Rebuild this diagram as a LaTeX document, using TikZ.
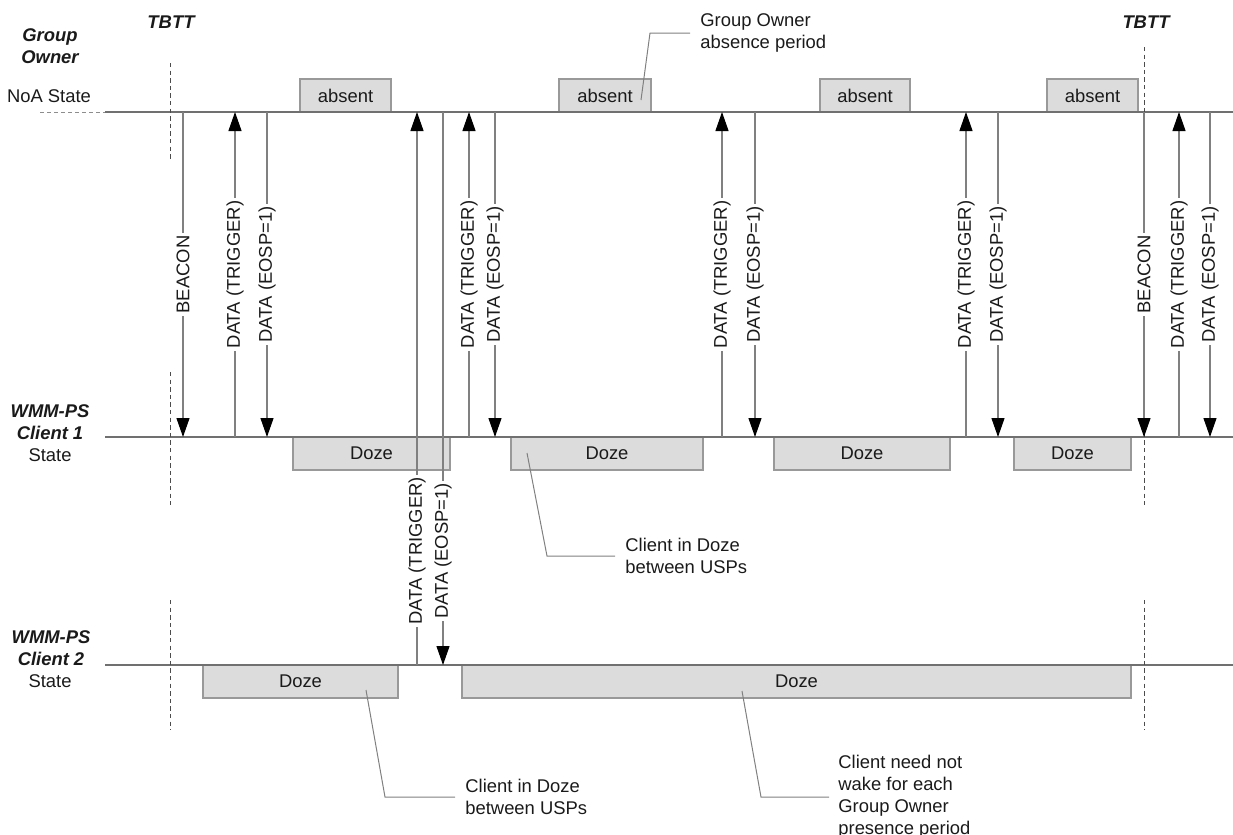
\documentclass[tikz,border=0pt]{standalone}
\usepackage{fontspec}
\setmainfont{Liberation Sans}
\usetikzlibrary{arrows.meta}
\definecolor{lineg}{HTML}{707070}
\definecolor{msgg}{HTML}{808080}
\definecolor{boxfill}{HTML}{DCDCDC}
\definecolor{boxline}{HTML}{999999}
\definecolor{txt}{HTML}{1A1A1A}
\begin{document}
\begin{tikzpicture}[x=0.5pt,y=-0.5pt,
  font=\fontsize{9.2pt}{11pt}\selectfont, text=txt,
  timeline/.style={draw=lineg, line width=0.55pt},
  lead/.style={draw=lineg!80, line width=0.5pt, dash pattern=on 2pt off 1.5pt},
  tbtt/.style={draw=black!70, line width=0.5pt, dash pattern=on 2.2pt off 1.6pt},
  msg/.style={draw=msgg, line width=0.55pt, -{Triangle[width=6.5pt,length=9.5pt,color=black]}},
  lbl/.style={fill=white, inner xsep=1.2pt, inner ysep=0.5pt, rotate=90, text=txt},
  statebox/.style={draw=boxline, fill=boxfill, line width=0.6pt, minimum height=16.5pt, inner sep=0pt},
  callline/.style={draw=msgg, line width=0.5pt},
  calltext/.style={anchor=west, align=left, inner sep=0pt},
  head/.style={font=\fontsize{9.2pt}{11pt}\selectfont\bfseries\itshape, align=center, inner sep=0pt},
  side/.style={align=center, inner sep=0pt}]
\useasboundingbox (0,0) rectangle (1233,835);

% --- state boxes
\node[statebox, minimum width=45.5pt] (a1) at (345.5,95.5) {absent};
\node[statebox, minimum width=46pt]   (a2) at (605,95.5) {absent};
\node[statebox, minimum width=45pt]   (a3) at (865,95.5) {absent};
\node[statebox, minimum width=45.5pt] (a4) at (1092.5,95.5) {absent};
\node[statebox, minimum width=78.5pt] (d1) at (371.5,453.5) {Doze};
\node[statebox, minimum width=96pt]   (d2) at (607,453.5) {Doze};
\node[statebox, minimum width=88pt]   (d3) at (862,453.5) {Doze};
\node[statebox, minimum width=58.5pt] (d4) at (1072.5,453.5) {Doze};
\node[statebox, minimum width=97.5pt] (e1) at (300.5,681.5) {Doze};
\node[statebox, minimum width=334.5pt] (e2) at (796.5,681.5) {Doze};

% --- side labels
\node[head] (tb1) at (171,22) {TBTT};
\node[head] (tb2) at (1146,22) {TBTT};
\node[head] (goh) at (50,46) {Group\\Owner};
\node[side] (gos) at (49,96) {NoA State};
\node[head] (c1h) at (50,422) {WMM-PS\\Client 1};
\node[side] (c1s) at (50,455) {State};
\node[head] (c2h) at (51,648) {WMM-PS\\Client 2};
\node[side] (c2s) at (50,681) {State};

% --- timelines
\coordinate (gl0) at (40,112);
\coordinate (gl1) at (105,112);
\coordinate (gl2) at (1233,112);
\coordinate (cl1) at (105,437);
\coordinate (cl2) at (1233,437);
\coordinate (ml1) at (105,665);
\coordinate (ml2) at (1233,665);
\draw[lead] (gl0) -- (gl1);
\draw[timeline] (gl1) -- (gl2);
\draw[timeline] (cl1) -- (cl2);
\draw[timeline] (ml1) -- (ml2);

% --- TBTT dashed markers
\foreach \x/\t [count=\i] in {170/63,1144/47}{
  \coordinate (ta\i) at (\x,\t);
  \coordinate (tb\i) at (\x,160);
  \coordinate (tc\i) at (\x,372);
  \coordinate (td\i) at (\x,505);
  \coordinate (te\i) at (\x,600);
  \coordinate (tf\i) at (\x,730);
  \draw[tbtt] (ta\i) -- (tb\i);
  \draw[tbtt] (tc\i) -- (td\i);
  \draw[tbtt] (te\i) -- (tf\i);
}

% --- messages between Group Owner and Client 1
\foreach \x/\d/\l [count=\i] in {
  183/dn/BEACON, 235/up/DATA (TRIGGER), 267/dn/DATA (EOSP=1),
  469/up/DATA (TRIGGER), 495/dn/DATA (EOSP=1),
  722/up/DATA (TRIGGER), 755/dn/DATA (EOSP=1),
  966/up/DATA (TRIGGER), 998/dn/DATA (EOSP=1),
  1144/dn/BEACON, 1179/up/DATA (TRIGGER), 1210/dn/DATA (EOSP=1)}{
  \coordinate (mg\i) at (\x,112);
  \coordinate (mc\i) at (\x,437);
  \ifnum\pdfstrcmp{\d}{up}=0
    \draw[msg] (mc\i) -- node[lbl] (ml\i) {\l} (mg\i);
  \else
    \draw[msg] (mg\i) -- node[lbl] (ml\i) {\l} (mc\i);
  \fi
}

% --- messages between Group Owner and Client 2
\coordinate (ng1) at (417,112);
\coordinate (nc1) at (417,437);
\coordinate (nm1) at (417,665);
\coordinate (ng2) at (443,112);
\coordinate (nc2) at (443,437);
\coordinate (nm2) at (443,665);
\draw[msg] (nm1) -- (ng1);
\path (nc1) -- node[lbl] (nl1) {DATA (TRIGGER)} (nm1);
\draw[msg] (ng2) -- (nm2);
\path (nc2) -- node[lbl] (nl2) {DATA (EOSP=1)} (nm2);

% --- callouts
\node[calltext] (co1) at (700,33) {Group Owner\\absence period};
\coordinate (k1a) at (641,100);
\coordinate (k1b) at (650,33);
\coordinate (k1c) at (690,33);
\draw[callline] (k1a) -- (k1b) -- (k1c);

\node[calltext] (co2) at (625,556) {Client in Doze\\between USPs};
\coordinate (k2a) at (527,453);
\coordinate (k2b) at (547,556);
\coordinate (k2c) at (615,556);
\draw[callline] (k2a) -- (k2b) -- (k2c);

\node[calltext] (co3) at (465,797) {Client in Doze\\between USPs};
\coordinate (k3a) at (366,690);
\coordinate (k3b) at (385,797);
\coordinate (k3c) at (455,797);
\draw[callline] (k3a) -- (k3b) -- (k3c);

\node[calltext] (co4) at (838,797) {Client need not\\wake for each\\Group Owner\\presence period};
\coordinate (k4a) at (742,691);
\coordinate (k4b) at (761,797);
\coordinate (k4c) at (829,797);
\draw[callline] (k4a) -- (k4b) -- (k4c);
\end{tikzpicture}
\end{document}
